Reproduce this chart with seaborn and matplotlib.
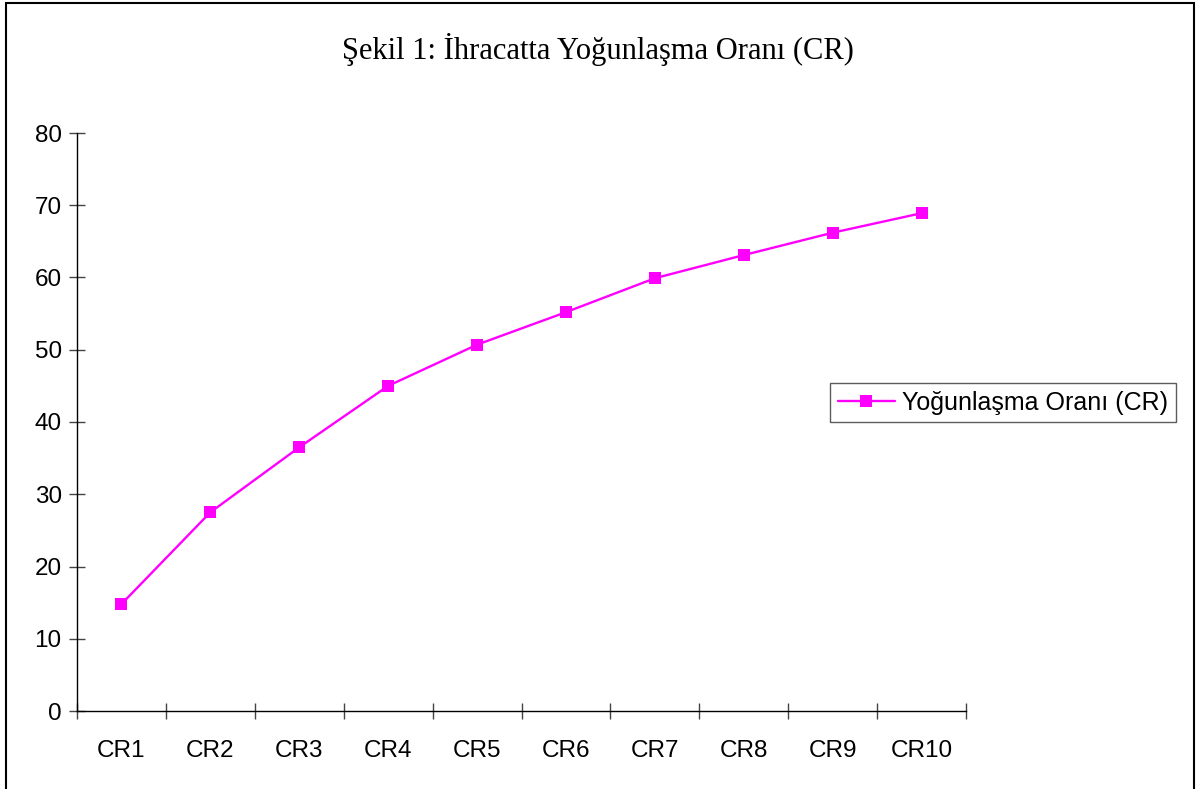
"""
Şekil 1: İhracatta Yoğunlaşma Oranı (CR) - line chart recreation.
"""

import numpy as np
import pandas as pd
import matplotlib
matplotlib.use('Agg')
import matplotlib.pyplot as plt
from matplotlib.patches import Rectangle
import seaborn as sns

# Data
categories = ['CR1', 'CR2', 'CR3', 'CR4', 'CR5', 'CR6', 'CR7', 'CR8', 'CR9', 'CR10']
cr_values = [14.8, 27.5, 36.5, 45.0, 50.7, 55.2, 59.9, 63.1, 66.2, 68.9]
y_ticks = [0, 10, 20, 30, 40, 50, 60, 70, 80]

SERIES_NAME = 'Yoğunlaşma Oranı (CR)'
TITLE = 'Şekil 1: İhracatta Yoğunlaşma Oranı (CR)'
MAGENTA = '#FF00FF'

sns.set_style('white')
plt.rcParams['font.family'] = ['Liberation Sans', 'DejaVu Sans']
plt.rcParams['text.color'] = 'black'
plt.rcParams['xtick.color'] = 'black'
plt.rcParams['ytick.color'] = 'black'

df = pd.DataFrame({'cat': categories, 'val': cr_values})

fig = plt.figure(figsize=(11.96, 7.89), dpi=100)
ax = fig.add_axes([77 / 1196, 1 - 711 / 789, (966 - 77) / 1196, (711 - 133) / 789])

sns.lineplot(data=df, x='cat', y='val', sort=False, ax=ax, color=MAGENTA,
             linewidth=1.7, marker='s', markersize=8.5, markeredgewidth=0,
             label=SERIES_NAME, legend=False)

# Axes
ax.set_xlim(-0.5, len(categories) - 0.5)
ax.set_ylim(0, 80)
ax.set_yticks(y_ticks)
ax.set_yticklabels([str(t) for t in y_ticks])
ax.set_xticks(np.arange(-0.5, len(categories), 1))
ax.set_xticklabels([])
ax.set_xticks(np.arange(len(categories)), minor=True)
ax.set_xticklabels(categories, minor=True)
ax.set_xlabel('')
ax.set_ylabel('')

ax.tick_params(axis='y', which='major', direction='inout', length=12, width=1,
               color='#444444', labelcolor='black', labelsize=17.5, pad=5, left=True)
ax.tick_params(axis='x', which='major', direction='inout', length=12, width=1,
               color='#444444', bottom=True)
ax.tick_params(axis='x', which='minor', length=0, labelsize=17.5, labelcolor='black', pad=21)

for side in ['top', 'right']:
    ax.spines[side].set_visible(False)
for side in ['left', 'bottom']:
    ax.spines[side].set_color('black')
    ax.spines[side].set_linewidth(1)
ax.grid(False)

# Title
fig.text(0.5, 1 - 49 / 789, TITLE, ha='center', va='center', color='black',
         fontsize=22, family=['Liberation Serif', 'DejaVu Serif'])

# Legend
handles, labels = ax.get_legend_handles_labels()
leg = fig.legend(handles, labels, loc='center left',
                 bbox_to_anchor=(830 / 1196, 1 - 403 / 789),
                 frameon=True, fancybox=False, edgecolor='#333333', fontsize=18,
                 handlelength=2.3, handletextpad=0.3, borderpad=0.3, borderaxespad=0)
for t in leg.get_texts():
    t.set_color('black')

# Figure border
fig.patches.append(Rectangle((6 / 1196, -0.01), (1194 - 6) / 1196, 1.01 - 3 / 789,
                             transform=fig.transFigure, fill=False,
                             edgecolor='black', linewidth=1.5))

fig.savefig('out.png', dpi=100)
plt.close(fig)
